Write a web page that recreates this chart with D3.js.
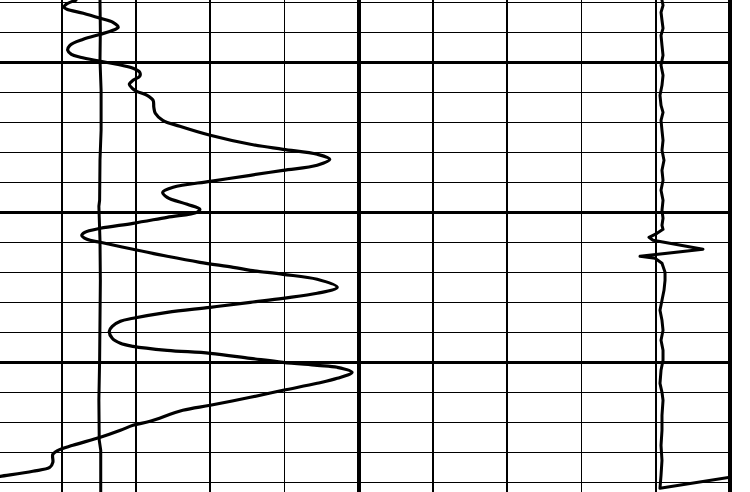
<!DOCTYPE html>
<html>
<head>
<meta charset="utf-8">
<script src="https://cdn.jsdelivr.net/npm/d3@7"></script>
<style>
  html, body { margin: 0; padding: 0; background: #fff; }
  svg { display: block; }
</style>
</head>
<body>
<svg id="chart" width="750" height="492"></svg>
<script>
// ---- Data (depth in m, curve values in track units 0-100) ----
const gridDepths = d3.range(1494, 1543, 3);        // horizontal grid lines
const thickDepths = [1500, 1515, 1530];             // heavy depth lines
const gridValues = d3.range(0, 101, 10);            // vertical grid lines
const thickValues = [50, 100];                      // heavy track lines

// Main curve (GR)
const grDepth = [1493.8,1494.2,1494.5,1494.7,1495.1,1495.6,1496.0,1496.5,1496.8,1497.2,1497.7,1498.3,1498.8,1499.2,1499.5,1499.9,1500.2,1500.6,1501.0,1501.4,1501.8,1502.2,1502.6,1502.9,1503.3,1503.8,1504.5,1505.1,1505.8,1506.4,1507.3,1508.2,1508.7,1509.2,1509.7,1510.3,1510.8,1511.3,1511.9,1512.5,1513.0,1513.5,1514.2,1514.7,1515.0,1515.5,1516.1,1516.6,1517.0,1517.3,1517.7,1518.0,1518.7,1519.4,1520.0,1520.5,1520.8,1521.2,1521.7,1522.5,1523.1,1523.6,1524.0,1524.5,1525.0,1525.6,1525.9,1526.4,1526.9,1527.6,1528.1,1528.4,1528.8,1529.1,1529.6,1530.0,1530.3,1530.5,1531.0,1531.6,1532.1,1532.8,1533.5,1534.3,1534.8,1535.9,1536.3,1536.8,1537.5,1538.3,1538.8,1539.2,1540.0,1540.5,1540.9,1541.4,1541.6];
const grValue = [11.9,10.6,10.3,10.7,12.9,15.2,16.9,17.6,16.9,15.2,12.9,11.1,10.8,11.3,12.5,15.2,17.4,19.6,20.5,20.5,19.6,19.1,19.5,20.1,21.5,22.3,22.4,22.6,23.6,25.9,30.0,35.4,39.8,44.4,46.1,44.4,39.8,35.4,30.0,25.0,23.6,24.2,26.9,28.6,28.2,24.2,19.6,15.2,13.1,12.7,13.4,15.2,19.6,24.2,28.6,33.1,35.4,39.8,44.4,47.1,44.4,39.8,35.4,30.0,24.2,19.6,17.9,16.8,16.4,16.8,17.9,19.6,24.2,30.0,35.4,39.8,44.4,47.1,49.1,47.1,44.4,39.8,35.4,30.0,26.3,21.9,19.6,17.9,15.2,11.5,9.5,8.8,8.8,8.4,6.1,1.7,0];

// Near-vertical curve (SP)
const spDepth = [1493.8,1496.8,1499.8,1502.8,1506.8,1509.8,1513.8,1514.4,1517.8,1521.8,1525.8,1529.8,1533.8,1537.8,1538.8,1543.0];
const spValue = [15.15,15.2,15.15,15.3,15.3,15.15,15.1,15.0,15.15,15.2,15.15,15.1,15.0,15.05,15.25,15.25];

// Right curve (CAL)
const calDepth = [1493.8,1494.3,1495.0,1495.8,1496.6,1497.3,1498.3,1499.3,1500.3,1501.3,1502.3,1503.3,1504.3,1505.0,1505.8,1506.8,1507.8,1508.8,1509.8,1510.8,1511.8,1512.8,1513.8,1514.8,1515.6,1516.3,1516.7,1517.1,1517.5,1517.8,1518.7,1519.4,1519.6,1520.1,1521.0,1521.8,1522.8,1523.8,1524.8,1525.8,1526.8,1527.8,1528.8,1529.8,1530.8,1532.1,1533.0,1533.8,1535.3,1536.8,1538.3,1539.8,1541.3,1542.6,1541.5];
const calValue = [90.84,90.98,90.71,90.84,90.98,90.71,90.84,90.98,90.71,90.98,90.84,90.57,90.71,90.98,90.71,90.84,90.98,90.84,91.11,90.84,90.98,90.71,90.98,90.84,90.98,90.84,90.98,90.17,89.09,89.63,96.36,87.88,89.90,90.84,91.25,91.25,91.11,90.84,90.57,90.84,90.98,90.71,90.98,90.98,90.71,90.57,90.84,90.98,90.84,90.84,90.71,90.84,90.71,90.57,100];

// ---- Scales ----
const W = 750, H = 492;
const x = d3.scaleLinear().domain([0, 100]).range([-12.5, 730]);
const y = d3.scaleLinear().domain([1494, 1542]).range([2.3, 482.3]);

const svg = d3.select("#chart");
svg.append("rect").attr("width", W).attr("height", H).attr("fill", "#fff");

svg.append("defs").append("clipPath").attr("id", "track")
  .append("rect").attr("x", x(0)).attr("y", 0).attr("width", x(100) - x(0)).attr("height", H);

const grid = svg.append("g").attr("stroke", "#000").attr("shape-rendering", "crispEdges");

// horizontal lines
grid.selectAll("line.h").data(gridDepths).join("line")
  .attr("class", "h")
  .attr("x1", x(0)).attr("x2", x(100))
  .attr("y1", d => y(d)).attr("y2", d => y(d))
  .attr("stroke-width", d => thickDepths.includes(d) ? 3 : 1.6);

// vertical lines
grid.selectAll("line.v").data(gridValues).join("line")
  .attr("class", "v")
  .attr("x1", d => x(d)).attr("x2", d => x(d))
  .attr("y1", 0).attr("y2", H)
  .attr("stroke-width", d => thickValues.includes(d) ? 3.5 : 1.6);

const curves = svg.append("g").attr("clip-path", "url(#track)")
  .attr("fill", "none").attr("stroke", "#000").attr("stroke-linejoin", "round").attr("stroke-linecap", "round");

const grData = grDepth.map((d, i) => [grValue[i], d]);
const spData = spDepth.map((d, i) => [spValue[i], d]);
const calData = calDepth.map((d, i) => [calValue[i], d]);

curves.append("path")
  .attr("d", d3.line().x(p => x(p[0])).y(p => y(p[1])).curve(d3.curveCatmullRom.alpha(0.5))(grData))
  .attr("stroke-width", 3.2);

curves.append("path")
  .attr("d", d3.line().x(p => x(p[0])).y(p => y(p[1])).curve(d3.curveLinear)(spData))
  .attr("stroke-width", 3);

curves.append("path")
  .attr("d", d3.line().x(p => x(p[0])).y(p => y(p[1])).curve(d3.curveLinear)(calData))
  .attr("stroke-width", 3);
</script>
</body>
</html>
